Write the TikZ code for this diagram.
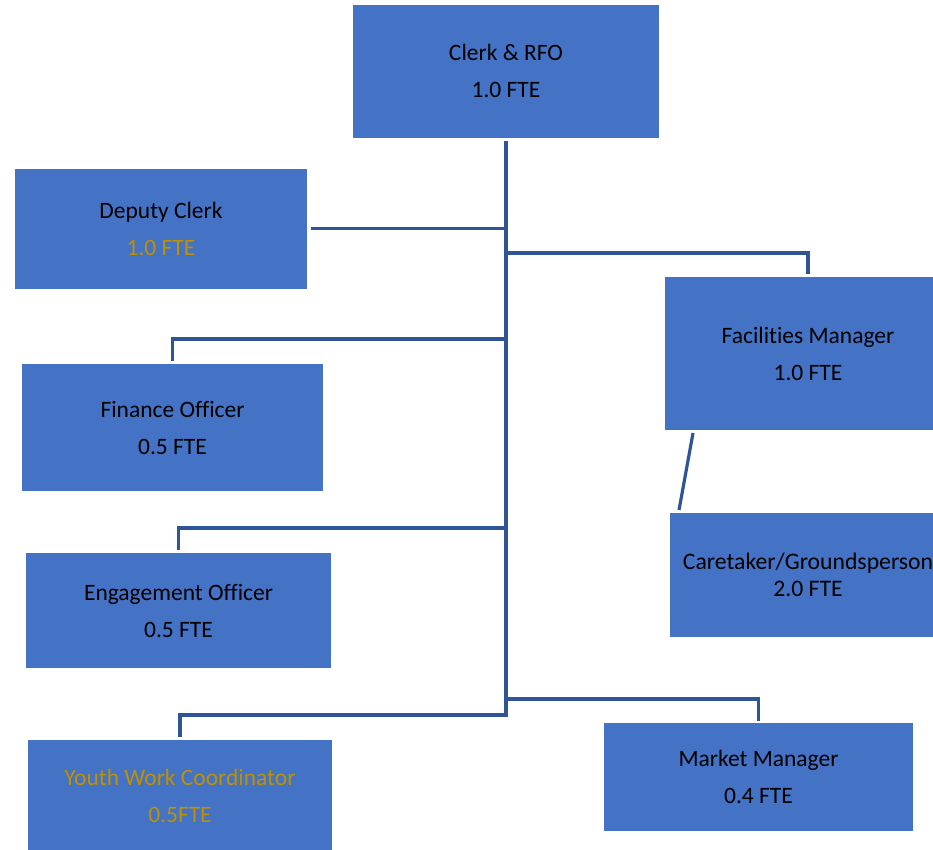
\documentclass[tikz,border=0pt]{standalone}
\usepackage{fontspec}
\setmainfont{Carlito}[Ligatures=NoCommon]
\usetikzlibrary{calc}
\definecolor{boxblue}{RGB}{68,114,196}
\definecolor{linkblue}{RGB}{47,85,151}
\definecolor{gold}{RGB}{191,144,0}
\tikzset{
  post/.style={rectangle, fill=boxblue, inner sep=0pt, outer sep=0pt,
    align=center, text=black, font=\fontsize{23.5}{37}\selectfont},
  tight/.style={font=\fontsize{23.7}{27}\selectfont},
  link/.style={draw=linkblue, line width=3.2pt}
}
\begin{document}
\begin{tikzpicture}[x=1pt, y=-1pt]
\useasboundingbox (0,0) rectangle (933,849);
\clip (0,0) rectangle (933,849);

% posts
\node[post, minimum width=306pt, minimum height=133pt] (clerk) at (506,71)
  {Clerk \& RFO\\1.0 FTE};
\node[post, minimum width=292pt, minimum height=120pt] (deputy) at (161,228.5)
  {Deputy Clerk\\\textcolor{gold}{1.0 FTE}};
\node[post, minimum width=301pt, minimum height=127pt] (fin) at (172.5,427.5)
  {Finance Officer\\0.5 FTE};
\node[post, minimum width=305pt, minimum height=115pt] (eng) at (178.5,610.5)
  {Engagement Officer\\0.5 FTE};
\node[post, minimum width=304pt, minimum height=112pt] (youth) at (180,796)
  {\textcolor{gold}{Youth Work Coordinator}\\\textcolor{gold}{0.5FTE}};
\node[post, minimum width=286pt, minimum height=153pt] (facil) at (808,353.5)
  {Facilities Manager\\1.0 FTE};
\node[post, tight, minimum width=276pt, minimum height=124pt] (care) at (808,575)
  {Caretaker/Groundsperson\\2.0 FTE};
\node[post, minimum width=309pt, minimum height=108pt] (market) at (758.5,777)
  {Market Manager\\0.4 FTE};

% reporting lines
\coordinate (ttop) at ([yshift=-3pt]clerk.south);
\coordinate (jfac) at (506,253);
\coordinate (jfin) at (506,339);
\coordinate (jeng) at (506,528);
\coordinate (jmkt) at (506,699);
\coordinate (jyth) at (506,715);

\draw[link] (ttop) -- (jyth) -| ([yshift=3pt]youth.north);
\draw[link] ([xshift=4pt]deputy.east) -- (deputy.east -| ttop);
\draw[link] (jfac) -| ([yshift=3pt]facil.north);
\draw[link] (jfin) -| ([yshift=3pt]fin.north);
\draw[link] (jeng) -| ([yshift=3pt]eng.north);
\draw[link] (jmkt) -| ([yshift=2pt]market.north);
\draw[link] ([xshift=28pt,yshift=-3pt]facil.south west) -- ([xshift=9pt,yshift=3pt]care.north west);
\end{tikzpicture}
\end{document}
